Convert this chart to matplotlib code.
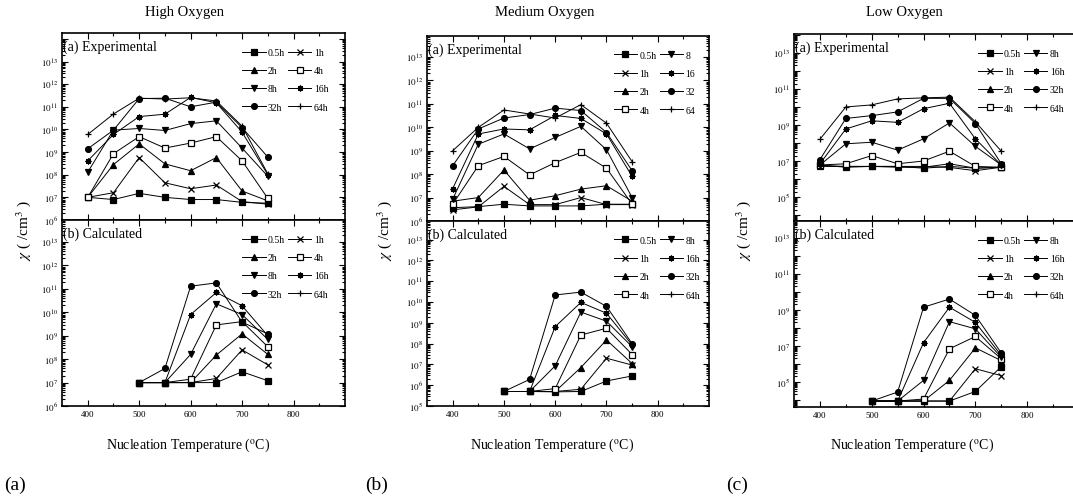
import numpy as np
import matplotlib.pyplot as plt
from matplotlib.ticker import LogLocator, FuncFormatter, FixedLocator, NullFormatter

plt.rcParams['font.family'] = ['Liberation Serif', 'DejaVu Serif']
plt.rcParams['mathtext.fontset'] = 'stix'

# nucleation temperatures (C)
temps_exp = [400, 450, 500, 550, 600, 650, 700, 750]
temps_calc = [500, 550, 600, 650, 700, 750]

hours = ['0.5h', '1h', '2h', '4h', '8h', '16h', '32h', '64h']
hours_med_exp = ['0.5h', '1h', '2h', '4h', '8', '16', '32', '64']

# high oxygen, experimental  (one row per anneal time)
high_exp = [
    [1.0e7, 8.0e6, 1.5e7, 1.0e7, 8.0e6, 8.0e6, 6.0e6, 5.5e6],
    [1.0e7, 1.6e7, 5.7e8, 4.4e7, 2.4e7, 3.5e7, 6.5e6, 5.0e6],
    [1.0e7, 2.8e8, 2.3e9, 3.0e8, 1.5e8, 5.7e8, 1.9e7, 7.0e6],
    [1.0e7, 8.5e8, 4.8e9, 1.5e9, 2.5e9, 4.8e9, 4.1e8, 9.0e6],
    [1.3e8, 9.3e9, 1.1e10, 9.0e9, 1.8e10, 2.4e10, 1.5e9, 8.5e7],
    [4.1e8, 6.0e9, 3.7e10, 4.7e10, 2.6e11, 1.5e11, 7.6e9, 1.0e8],
    [1.4e9, 9.3e9, 2.3e11, 2.4e11, 1.0e11, 1.6e11, 1.2e10, 6.0e8],
    [6.0e9, 4.8e10, 2.4e11, 2.2e11, 2.5e11, 1.8e11, 1.4e10, 1.1e8],
]
# high oxygen, calculated
high_calc = [
    [1.0e7, 1.0e7, 1.0e7, 1.0e7, 2.9e7, 1.2e7],
    [1.0e7, 1.0e7, 1.0e7, 1.5e7, 2.5e8, 5.7e7],
    [1.0e7, 1.0e7, 1.0e7, 1.5e8, 1.2e9, 1.6e8],
    [1.0e7, 1.0e7, 1.4e7, 2.9e9, 4.0e9, 3.4e8],
    [1.0e7, 1.0e7, 1.6e8, 2.3e10, 8.0e9, 7.0e8],
    [1.0e7, 1.0e7, 8.0e9, 7.0e10, 1.9e10, 1.0e9],
    [1.0e7, 4.0e7, 1.3e11, 1.8e11, 3.8e9, 1.2e9],
    [np.nan] * 6,
]

# medium oxygen, experimental
med_exp = [
    [3.7e6, 4.1e6, 5.2e6, 4.4e6, 4.4e6, 4.4e6, 5.2e6, 5.2e6],
    [3.0e6, 4.0e6, 3.0e7, 5.0e6, 5.0e6, 1.0e7, 5.0e6, 5.0e6],
    [7.0e6, 1.0e7, 1.5e8, 7.7e6, 1.2e7, 2.3e7, 3.2e7, 7.0e6],
    [5.2e6, 2.3e8, 5.7e8, 9.3e7, 3.1e8, 8.5e8, 1.8e8, 5.2e6],
    [8.5e6, 1.9e9, 5.2e9, 1.2e9, 3.7e9, 1.1e10, 1.1e9, 1.0e7],
    [2.4e7, 5.2e9, 8.5e9, 7.8e9, 3.2e10, 2.4e10, 5.2e9, 8.0e7],
    [2.3e8, 8.5e9, 2.5e10, 3.5e10, 6.6e10, 5.2e10, 6.0e9, 1.4e8],
    [1.0e9, 1.0e10, 5.5e10, 3.7e10, 2.5e10, 9.3e10, 1.5e10, 3.4e8],
]
# medium oxygen, calculated
med_calc = [
    [5.0e5, 5.0e5, 4.8e5, 5.0e5, 1.6e6, 2.8e6],
    [5.0e5, 5.0e5, 5.0e5, 6.4e5, 2.0e7, 9.3e6],
    [5.0e5, 5.0e5, 5.0e5, 7.1e6, 1.5e8, 1.1e7],
    [5.0e5, 5.0e5, 6.9e5, 2.6e8, 5.5e8, 3.0e7],
    [5.0e5, 5.0e5, 8.6e6, 3.3e9, 1.2e9, 7.1e7],
    [5.0e5, 5.0e5, 6.6e8, 9.6e9, 2.9e9, 8.6e7],
    [5.0e5, 1.9e6, 2.2e10, 3.0e10, 6.2e9, 1.0e8],
    [np.nan] * 6,
]

# low oxygen, experimental
low_exp = [
    [6.0e6, 4.5e6, 5.0e6, 5.0e6, 4.0e6, 5.0e6, 4.0e6, 4.5e6],
    [5.0e6, 5.0e6, 5.0e6, 5.0e6, 5.0e6, 4.4e6, 2.9e6, 4.5e6],
    [5.5e6, 5.0e6, 5.0e6, 4.5e6, 4.5e6, 7.0e6, 4.0e6, 4.5e6],
    [6.0e6, 7.0e6, 2.0e7, 7.0e6, 1.0e7, 3.5e7, 5.0e6, 4.5e6],
    [6.0e6, 9.0e7, 1.1e8, 4.0e7, 1.7e8, 1.3e9, 6.5e7, 6.0e6],
    [7.0e6, 6.0e8, 1.7e9, 1.4e9, 8.0e9, 1.6e10, 1.7e8, 6.0e6],
    [1.2e7, 2.3e9, 3.3e9, 5.3e9, 3.0e10, 3.0e10, 1.2e9, 7.0e6],
    [1.6e8, 1.0e10, 1.3e10, 2.8e10, 3.2e10, 3.5e10, 1.5e9, 3.5e7],
]
# low oxygen, calculated
low_calc = [
    [8.5e3, 8.5e3, 8.5e3, 8.5e3, 2.9e4, 7.0e5],
    [8.5e3, 8.5e3, 8.5e3, 8.5e3, 5.3e5, 2.2e5],
    [8.5e3, 8.5e3, 8.5e3, 1.2e5, 7.7e6, 1.5e6],
    [8.5e3, 8.5e3, 1.1e4, 6.8e6, 3.3e7, 1.9e6],
    [8.5e3, 8.5e3, 1.2e5, 2.2e8, 8.8e7, 2.3e6],
    [8.5e3, 8.5e3, 1.5e7, 1.4e9, 2.0e8, 2.9e6],
    [8.5e3, 2.7e4, 1.4e9, 4.0e9, 4.9e8, 4.0e6],
    [np.nan] * 6,
]

# marker style per anneal time
markers = ['s', 'x', '^', 's', 'v', (8, 2, 0), 'o', '+']
faces = ['k', 'k', 'k', 'w', 'k', 'k', 'k', 'k']


def sci_label(v, step=1):
    e = int(round(np.log10(v)))
    if e > 13:
        return ''
    if step > 1 and e % step == 0:
        return ''
    return r'$10^{%d}$' % e


def style_axis(ax, ylim, step=1, xlabels=True):
    ax.set_yscale('log')
    ax.set_xlim(350, 900)
    ax.set_ylim(*ylim)
    ax.xaxis.set_major_locator(FixedLocator([400, 500, 600, 700, 800]))
    ax.xaxis.set_minor_locator(FixedLocator([450, 550, 650, 750, 850]))
    ax.yaxis.set_major_locator(LogLocator(base=10, numticks=30))
    ax.yaxis.set_minor_locator(LogLocator(base=10, subs=np.arange(2, 10), numticks=30))
    ax.yaxis.set_major_formatter(FuncFormatter(lambda v, p: sci_label(v, step)))
    ax.yaxis.set_minor_formatter(NullFormatter())
    ax.tick_params(which='both', direction='in', top=True, right=True, labelsize=6.5, width=0.8, pad=3)
    ax.tick_params(which='major', length=4)
    ax.tick_params(which='minor', length=2)
    if not xlabels:
        ax.tick_params(axis='x', labelbottom=False)
    for s in ax.spines.values():
        s.set_linewidth(1.2)


def draw(ax, xs, rows, labels, order, title, legend_x):
    handles = []
    for i, ys in enumerate(rows):
        h, = ax.plot(xs, ys, '-', color='k', lw=0.7, marker=markers[i], ms=4.2,
                     mfc=faces[i], mec='k', mew=0.9, label=labels[i])
        handles.append(h)
    ax.text(0.005, 0.965, title, transform=ax.transAxes, ha='left', va='top', fontsize=10)
    hs = [handles[i] for i in order]
    ax.legend(hs, [labels[i] for i in order], ncol=2, loc='upper left',
              bbox_to_anchor=(legend_x, 0.93), frameon=False, fontsize=7,
              handlelength=2.4, handletextpad=0.25, columnspacing=0.3,
              labelspacing=0.95, borderpad=0.2, borderaxespad=0)


fig = plt.figure(figsize=(10.73, 5.02), dpi=100)

col_order = [0, 1, 2, 3, 4, 5, 6, 7]
row_order = [0, 2, 4, 6, 1, 3, 5, 7]

# panel positions: left, width, top, middle, bottom (figure fractions)
panels = [
    (0.0578, 0.2637, 0.9323, 0.5598, 0.1892),
    (0.3980, 0.2628, 0.9263, 0.5578, 0.1892),
    (0.7400, 0.2656, 0.9303, 0.5578, 0.1873),
]
sets = [
    (high_exp, high_calc, hours, hours, row_order, row_order,
     (1e6, 10 ** 14.26), (1e6, 10 ** 13.94), 1, 0.63),
    (med_exp, med_calc, hours_med_exp, hours, col_order, col_order,
     (1e6, 10 ** 13.9), (1e5, 10 ** 13.9), 1, 0.655),
    (low_exp, low_calc, hours, hours, col_order, col_order,
     (10 ** 3.67, 10 ** 14.05), (10 ** 3.6, 10 ** 13.94), 2, 0.64),
]

for (l, w, top, mid, bot), (ex, ca, lab_e, lab_c, ord_e, ord_c, yl_e, yl_c, step, lx) in zip(panels, sets):
    ax1 = fig.add_axes([l, mid, w, top - mid])
    ax2 = fig.add_axes([l, bot, w, mid - bot])
    draw(ax1, temps_exp, ex, lab_e, ord_e, '(a) Experimental', lx)
    draw(ax2, temps_calc, ca, lab_c, ord_c, '(b) Calculated', lx)
    style_axis(ax1, yl_e, step, xlabels=False)
    style_axis(ax2, yl_c, step)

ylab = r'$\chi$ ( /cm$^3$ )'
for x in [0.022, 0.358, 0.693]:
    fig.text(x, 0.54, ylab, rotation=90, ha='center', va='center', fontsize=11)

for x, t in zip([0.172, 0.508, 0.843], ['High Oxygen', 'Medium Oxygen', 'Low Oxygen']):
    fig.text(x, 0.975, t, ha='center', va='center', fontsize=10.5)

xlab = r'Nucleation Temperature ($^{\rm o}$C)'
for x in [0.175, 0.515, 0.85]:
    fig.text(x, 0.113, xlab, ha='center', va='center', fontsize=10)

for x, t in zip([0.004, 0.340, 0.677], ['(a)', '(b)', '(c)']):
    fig.text(x, 0.034, t, ha='left', va='center', fontsize=14)

fig.savefig('out.png', dpi=100)
